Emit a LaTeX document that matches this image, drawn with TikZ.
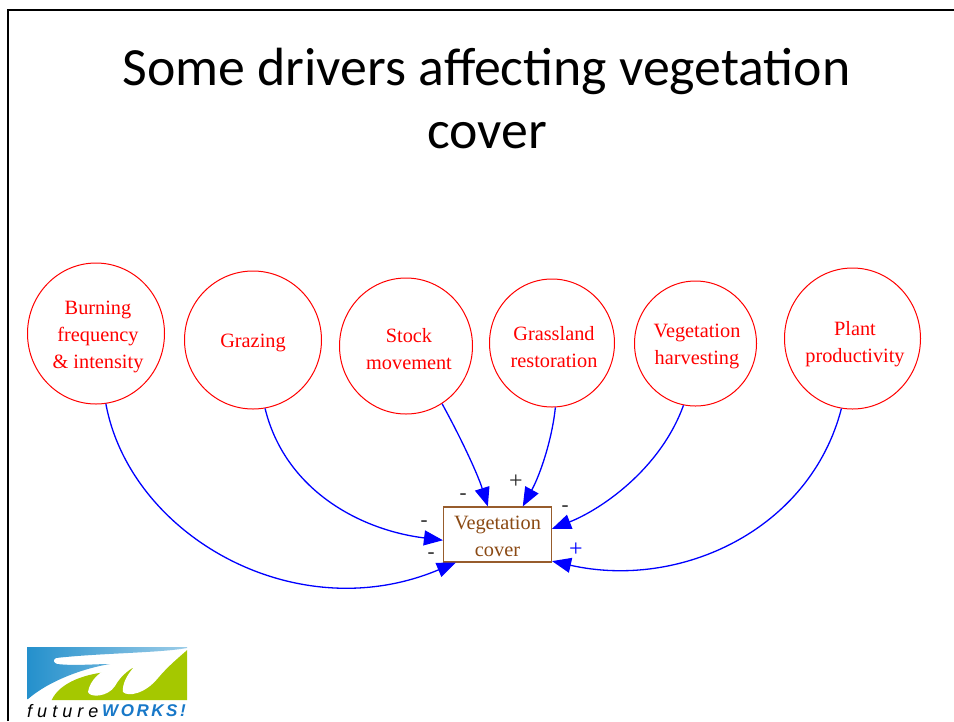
\documentclass[tikz,border=0pt]{standalone}
\usepackage{fontspec}
\setmainfont{Liberation Serif}
\newfontfamily\titlefont{Carlito}
\newfontfamily\logofuture[LetterSpace=28]{Liberation Sans}
\newfontfamily\logoworks[LetterSpace=15]{Liberation Sans}
\usetikzlibrary{arrows.meta,shadings,shapes.geometric}
\definecolor{boxbrown}{HTML}{8B4A14}
\definecolor{logoblue}{HTML}{2490CC}
\definecolor{logogreen}{HTML}{A5C800}
\definecolor{logotext}{HTML}{1878C8}
\tikzset{
  driver/.style={ellipse,draw=red,line width=1pt,inner sep=0pt},
  lbl/.style={text=red,align=center,inner sep=0pt,font=\fontsize{20.3}{27}\selectfont},
  target/.style={draw=boxbrown!90,line width=1.1pt,minimum width=108pt,minimum height=55pt,inner sep=0pt},
  tlbl/.style={text=boxbrown,align=center,inner sep=0pt,font=\fontsize{20.3}{27}\selectfont},
  link/.style={draw=blue,line width=1.3pt,-{Triangle[length=19pt,width=15pt,fill=blue]}},
  sign/.style={inner sep=0pt,font=\fontsize{21}{21}\selectfont,text=black!85},
  plus/.style={sign,font=\fontsize{24}{24}\selectfont},
  frame/.style={draw=black,line width=2.2pt},
  titletext/.style={inner sep=0pt,font=\fontsize{53.8}{60}\titlefont\selectfont,text=black}
}
\begin{document}
\begin{tikzpicture}[x=1pt,y=-1pt]
\useasboundingbox (0,0) rectangle (954,721);
\fill[white] (0,0) rectangle (954,721);
\coordinate (ftl) at (8,10);
\coordinate (fbl) at (8,721);
\coordinate (ftr) at (954,10);
\draw[frame] (fbl) -- (ftl) -- (ftr);
\node[titletext] (t1) at (486.5,71) {Some drivers affecting vegetation};
\node[titletext] (t2) at (487,136) {cover};

\node[driver,minimum width=137pt,minimum height=141pt,label={[lbl,xshift=2pt,yshift=-3.5pt]center:Burning\\frequency\\\&\ intensity}] (burn) at (96,333.5) {};
\node[driver,minimum width=137pt,minimum height=138pt,label={[lbl,yshift=-2.5pt]center:Grazing}] (graz) at (253,340) {};
\node[driver,minimum width=133pt,minimum height=136pt,label={[lbl,xshift=3pt,yshift=-3.5pt]center:Stock\\movement}] (stock) at (406,346) {};
\node[driver,minimum width=125pt,minimum height=128pt,label={[lbl,xshift=2pt,yshift=-4pt]center:Grassland\\restoration}] (grass) at (552,343) {};
\node[driver,minimum width=122pt,minimum height=125pt,label={[lbl,xshift=1.5pt,yshift=-3pt]center:Vegetation\\harvesting}] (harv) at (695.5,343.5) {};
\node[driver,minimum width=136pt,minimum height=141pt,label={[lbl,xshift=2.5pt,yshift=-5.5pt]center:Plant\\productivity}] (plant) at (852.5,338.5) {};
\node[target,label={[tlbl,yshift=-1.5pt]center:Vegetation\\cover}] (veg) at (497.5,534.5) {};

\draw[link] (burn.-82) .. controls (130,535) and (295,630) .. (veg.-146);
\draw[link] (graz.-80) .. controls (285,490) and (360,530) .. (veg.186);
\draw[link] (stock.-58) .. controls (462,440) and (478,475) .. (veg.109);
\draw[link] (grass.-87) .. controls (552,440) and (540,475) .. (veg.48);
\draw[link] (harv.-101) .. controls (660,470) and (600,510) .. (veg.6);
\draw[link] (plant.-99) .. controls (810,530) and (680,590) .. (veg.-26);

\node[sign] (s1) at (463,497) {-};
\node[plus] (s2) at (516,482) {+};
\node[sign] (s3) at (424,524) {-};
\node[sign] (s4) at (431,556) {-};
\node[sign] (s5) at (565,509) {-};
\node[plus,text=blue] (s6) at (576,550) {+};

% logo
\fill[logogreen] (51.7,700) .. controls (60,682) and (87,673) .. (111.7,671.7) -- (187,650) -- (187,700) -- cycle;
\fill[white] (118,664) .. controls (100,670) and (90,680) .. (88,692) .. controls (90,698) and (108,697) .. (115,686) .. controls (120,677) and (127,671) .. (134,667) .. controls (127,675) and (122,684) .. (123,692) .. controls (128,697) and (145,694) .. (158,678) .. controls (168,666) and (178,658) .. (187,650) -- (187,647) -- cycle;
\shade[left color=logoblue,right color=logoblue!45] (27,647) -- (187,647) -- (187,648) .. controls (160,653) and (100,653) .. (56,658) .. controls (52,660) and (54,663) .. (57,664) .. controls (75,666) and (95,664) .. (110,664) .. controls (85,668) and (50,680) .. (28,699) -- (27,699) -- cycle;
\node[inner sep=0pt,anchor=west,font=\logofuture\itshape\fontsize{18}{18}\selectfont,text=black] (lf) at (27,711) {future};
\node[inner sep=0pt,anchor=west,font=\logoworks\bfseries\itshape\fontsize{17}{17}\selectfont,text=logotext] (lw) at (102,711) {WORKS!};
\end{tikzpicture}
\end{document}
